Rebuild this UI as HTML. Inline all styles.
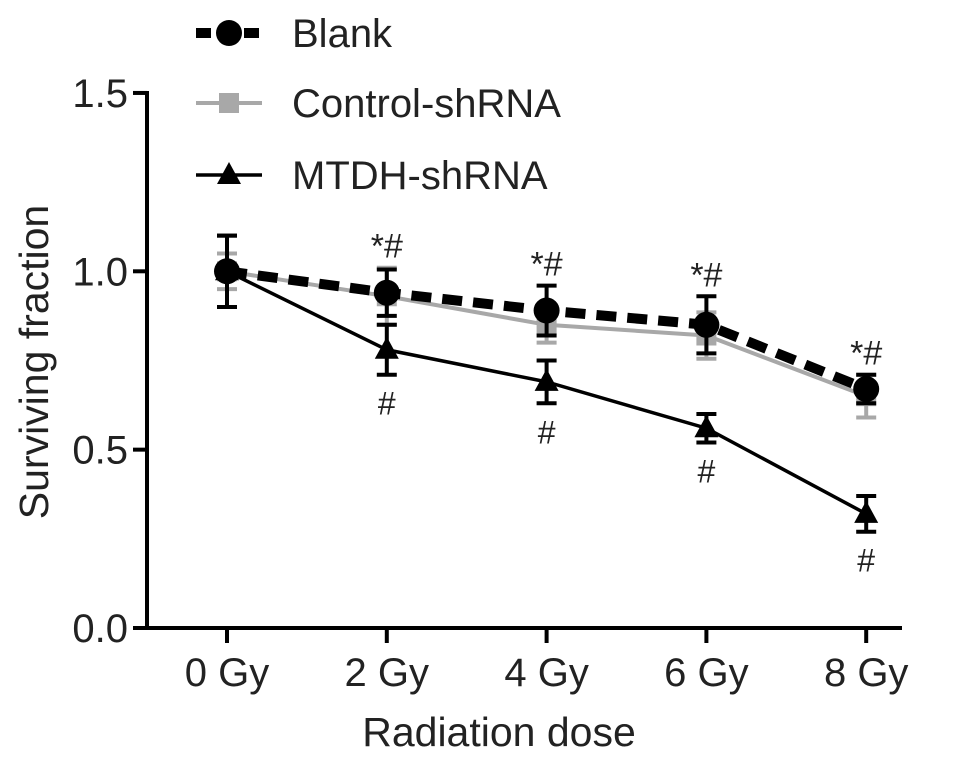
<!DOCTYPE html>
<html><head><meta charset="utf-8"><style>
body{margin:0;background:#fff;}
svg text{font-family:"Liberation Sans",Arial,sans-serif;}
</style></head><body>
<svg width="969" height="759" viewBox="0 0 969 759" xmlns="http://www.w3.org/2000/svg">
</svg>
<script>
const categories=["0 Gy","2 Gy","4 Gy","6 Gy","8 Gy"];
const yTicks=[0.0,0.5,1.0,1.5];
const yTickLabels=["0.0","0.5","1.0","1.5"];
const blank=[1.0,0.94,0.89,0.85,0.67];
const blankErr=[0.10,0.065,0.07,0.08,0.04];
const control=[1.0,0.93,0.85,0.82,0.65];
const controlErr=[0.05,0.08,0.05,0.065,0.06];
const mtdh=[1.0,0.78,0.69,0.56,0.32];
const mtdhErr=[0.10,0.07,0.06,0.04,0.05];
const topLabels=["","*#","*#","*#","*#"];
const bottomLabels=["","#","#","#","#"];

const NS="http://www.w3.org/2000/svg";
const svg=document.querySelector('svg');
function X(i){return 227+i*159.8;}
function Y(v){return 628-v*356.7;}
function mk(tag,attrs,parent){const e=document.createElementNS(NS,tag);for(const k in attrs)e.setAttribute(k,attrs[k]);(parent||svg).appendChild(e);return e;}

let ax=mk('line',{x1:147,y1:91,x2:147,y2:630,stroke:'#000','stroke-width':4});


let axx=mk('line',{x1:145,y1:628,x2:902,y2:628,stroke:'#000','stroke-width':4});


yTicks.forEach((t,i)=>{
  let l=mk('line',{x1:133,y1:Y(t),x2:147,y2:Y(t),stroke:'#000','stroke-width':4});
  
  
  let tx=mk('text',{x:128,y:Y(t)+14,'text-anchor':'end','font-size':40,fill:'#222'});
  tx.textContent=yTickLabels[i];
  
  
});
categories.forEach((c,i)=>{
  let l=mk('line',{x1:X(i),y1:628,x2:X(i),y2:643,stroke:'#000','stroke-width':4});
  
  
  let tx=mk('text',{x:X(i),y:686,'text-anchor':'middle','font-size':40,fill:'#222'});
  tx.textContent=c;
  
  
});
let xt=mk('text',{x:499,y:746,'text-anchor':'middle','font-size':41,fill:'#222'});
xt.textContent='Radiation dose';


let yt=mk('text',{x:0,y:0,'text-anchor':'middle','font-size':41,fill:'#222',transform:'translate(48,362) rotate(-90)'});
yt.textContent='Surviving  fraction';



function errbars(vals,errs,color,w,name){
  vals.forEach((v,i)=>{
    const g=mk('g',{stroke:color,'stroke-width':w});
    
    
    mk('line',{x1:X(i),y1:Y(v+errs[i]),x2:X(i),y2:Y(v-errs[i])},g);
    mk('line',{x1:X(i)-10,y1:Y(v+errs[i]),x2:X(i)+10,y2:Y(v+errs[i])},g);
    mk('line',{x1:X(i)-10,y1:Y(v-errs[i]),x2:X(i)+10,y2:Y(v-errs[i])},g);
  });
}
function line(vals,color,w,dash,name){
  const p=mk('polyline',{points:vals.map((v,i)=>X(i)+','+Y(v)).join(' '),fill:'none',stroke:color,'stroke-width':w,'stroke-dasharray':dash||'none'});
  
  
}
line(control,'#a8a8a8',4,null,'control-shrna');
errbars(control,controlErr,'#a8a8a8',4,'control-shrna');
control.forEach((v,i)=>{const r=mk('rect',{x:X(i)-10,y:Y(v)-10,width:20,height:20,fill:'#a8a8a8'});

});
line(mtdh,'#000',3.5,null,'mtdh-shrna');
errbars(mtdh,mtdhErr,'#000',4,'mtdh-shrna');
mtdh.forEach((v,i)=>{const p=mk('polygon',{points:`${X(i)},${Y(v)-13} ${X(i)-12},${Y(v)+9} ${X(i)+12},${Y(v)+9}`,fill:'#000'});

});
line(blank,'#000',10,'20,11','blank');
errbars(blank,blankErr,'#000',4,'blank');
blank.forEach((v,i)=>{const c=mk('circle',{cx:X(i),cy:Y(v),r:13,fill:'#000'});

});
categories.forEach((c,i)=>{
  if(topLabels[i]){
    const top=Math.max(blank[i]+blankErr[i],control[i]+controlErr[i]);
    let t=mk('text',{x:X(i),y:Y(top)-10,'text-anchor':'middle','font-size':34,fill:'#222'});
    t.textContent=topLabels[i];
    
    
  }
  if(bottomLabels[i]){
    let t=mk('text',{x:X(i),y:Y(mtdh[i]-mtdhErr[i])+40,'text-anchor':'middle','font-size':32,fill:'#222'});
    t.textContent=bottomLabels[i];
    
    
  }
});
const lg=mk('g',{});


mk('line',{x1:196,y1:33,x2:262,y2:33,stroke:'#000','stroke-width':10,'stroke-dasharray':'15,9'},lg);
mk('circle',{cx:229,cy:33,r:13,fill:'#000'},lg);
mk('line',{x1:196,y1:103,x2:262,y2:103,stroke:'#a8a8a8','stroke-width':4},lg);
mk('rect',{x:219,y:93,width:20,height:20,fill:'#a8a8a8'},lg);
mk('line',{x1:196,y1:175,x2:262,y2:175,stroke:'#000','stroke-width':3.5},lg);
mk('polygon',{points:'229,162 217,184 241,184',fill:'#000'},lg);
[['Blank',47],['Control-shRNA',117],['MTDH-shRNA',189]].forEach(([s,y])=>{
  let t=mk('text',{x:292,y:y,'font-size':40,fill:'#222'},lg);
  t.textContent=s;
  
  
});
</script>
</body></html>
